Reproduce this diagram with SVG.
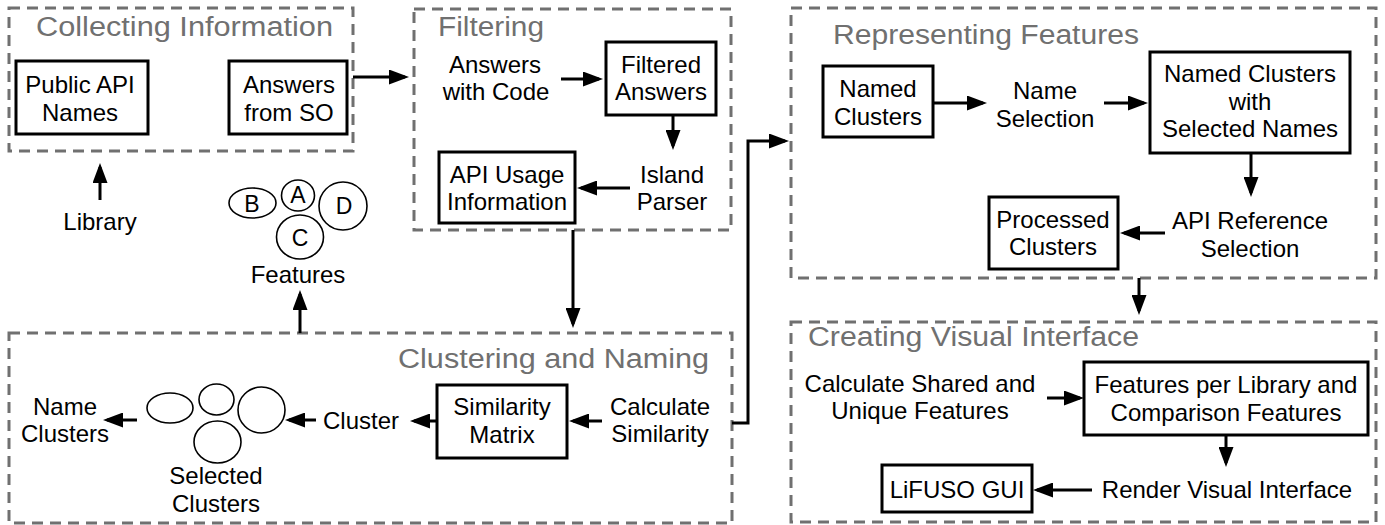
<svg xmlns="http://www.w3.org/2000/svg" width="1385" height="525" viewBox="0 0 1385 525">
<defs>
<style>
.grp{fill:none;stroke:#707070;stroke-width:3;stroke-dasharray:11 7}
.ttl{font-family:"Liberation Sans",Arial,Helvetica,sans-serif;font-size:27px;fill:#707070}
.box{fill:#fff;stroke:#000;stroke-width:3}
.t{font-family:"Liberation Sans",Arial,Helvetica,sans-serif;font-size:24px;fill:#000;text-anchor:middle}
.s{font-family:"Liberation Sans",Arial,Helvetica,sans-serif;font-size:23px;fill:#000;text-anchor:middle}
.el{fill:#fff;stroke:#000;stroke-width:1.6}
.c{fill:none;stroke:#000;stroke-width:3;marker-end:url(#ah)}
</style>
<marker id="ah" markerUnits="userSpaceOnUse" markerWidth="20" markerHeight="15" refX="16" refY="7.5" orient="auto">
<path d="M0,0 L20,7.5 L0,15 z" fill="#000"/>
</marker>
</defs>
<rect width="1385" height="525" fill="#fff"/>

<g id="collecting">
<rect class="grp" x="9" y="8" width="344" height="143"/>
<text class="ttl" x="36" y="36" textLength="297" lengthAdjust="spacingAndGlyphs">Collecting Information</text>
</g>
<g id="public-api-names">
<rect class="box" x="16" y="61" width="132" height="73"/>
<text class="t" x="80" y="93">Public API</text>
<text class="t" x="80" y="121">Names</text>
</g>
<g id="answers-from-so">
<rect class="box" x="229" y="61" width="118" height="73"/>
<text class="t" x="289" y="93">Answers</text>
<text class="t" x="289" y="121">from SO</text>
</g>
<g id="library"><text class="t" x="100" y="230">Library</text></g>
<g id="features">
<ellipse class="el" cx="252.5" cy="203" rx="23.5" ry="15"/>
<ellipse class="el" cx="298" cy="195.5" rx="16.5" ry="15.5"/>
<ellipse class="el" cx="343" cy="206" rx="24" ry="24"/>
<ellipse class="el" cx="300" cy="237" rx="23.5" ry="22"/>
<text class="s" x="252" y="212">B</text>
<text class="s" x="298" y="203">A</text>
<text class="s" x="344" y="214">D</text>
<text class="s" x="300" y="246">C</text>
<text class="t" x="298" y="283">Features</text>
</g>

<g id="filtering">
<rect class="grp" x="414" y="9" width="317" height="221"/>
<text class="ttl" x="438" y="36" textLength="106" lengthAdjust="spacingAndGlyphs">Filtering</text>
</g>
<g id="answers-with-code">
<text class="t" x="495" y="73">Answers</text>
<text class="t" x="496" y="100">with Code</text>
</g>
<g id="filtered-answers">
<rect class="box" x="606" y="42" width="110" height="73"/>
<text class="t" x="661" y="73">Filtered</text>
<text class="t" x="661" y="100">Answers</text>
</g>
<g id="island-parser">
<text class="t" x="672" y="183">Island</text>
<text class="t" x="672" y="210">Parser</text>
</g>
<g id="api-usage-information">
<rect class="box" x="439" y="152" width="136" height="71"/>
<text class="t" x="507" y="183">API Usage</text>
<text class="t" x="507" y="210">Information</text>
</g>

<g id="representing">
<rect class="grp" x="791" y="8" width="585" height="270"/>
<text class="ttl" x="833" y="44" textLength="306" lengthAdjust="spacingAndGlyphs">Representing Features</text>
</g>
<g id="named-clusters">
<rect class="box" x="823" y="66" width="110" height="71"/>
<text class="t" x="878" y="97">Named</text>
<text class="t" x="878" y="125">Clusters</text>
</g>
<g id="name-selection">
<text class="t" x="1045" y="99">Name</text>
<text class="t" x="1045" y="127">Selection</text>
</g>
<g id="named-clusters-selected">
<rect class="box" x="1150" y="52" width="200" height="101"/>
<text class="t" x="1250" y="82">Named Clusters</text>
<text class="t" x="1250" y="110">with</text>
<text class="t" x="1250" y="137">Selected Names</text>
</g>
<g id="api-reference-selection">
<text class="t" x="1250" y="229">API Reference</text>
<text class="t" x="1250" y="257">Selection</text>
</g>
<g id="processed-clusters">
<rect class="box" x="989" y="197" width="129" height="72"/>
<text class="t" x="1053" y="228">Processed</text>
<text class="t" x="1053" y="255">Clusters</text>
</g>

<g id="clustering">
<rect class="grp" x="9" y="333" width="723" height="190"/>
<text class="ttl" x="398" y="368" textLength="311" lengthAdjust="spacingAndGlyphs">Clustering and Naming</text>
</g>
<g id="name-clusters">
<text class="t" x="65" y="415">Name</text>
<text class="t" x="65" y="442">Clusters</text>
</g>
<g id="selected-clusters">
<ellipse class="el" cx="170" cy="408" rx="23" ry="15"/>
<ellipse class="el" cx="216.5" cy="399.5" rx="17.5" ry="15.5"/>
<ellipse class="el" cx="261.5" cy="410" rx="23.5" ry="23"/>
<ellipse class="el" cx="217.5" cy="442" rx="23.5" ry="21"/>
<text class="t" x="216" y="484">Selected</text>
<text class="t" x="216" y="512">Clusters</text>
</g>
<g id="cluster"><text class="t" x="361" y="429">Cluster</text></g>
<g id="similarity-matrix">
<rect class="box" x="437" y="385" width="130" height="73"/>
<text class="t" x="502" y="415">Similarity</text>
<text class="t" x="502" y="443">Matrix</text>
</g>
<g id="calculate-similarity">
<text class="t" x="660" y="415">Calculate</text>
<text class="t" x="660" y="442">Similarity</text>
</g>

<g id="creating">
<rect class="grp" x="791" y="322" width="585" height="200"/>
<text class="ttl" x="808" y="346" textLength="331" lengthAdjust="spacingAndGlyphs">Creating Visual Interface</text>
</g>
<g id="calculate-shared">
<text class="t" x="920" y="392">Calculate Shared and</text>
<text class="t" x="920" y="419">Unique Features</text>
</g>
<g id="features-per-library">
<rect class="box" x="1084" y="362" width="284" height="73"/>
<text class="t" x="1226" y="393">Features per Library and</text>
<text class="t" x="1226" y="421">Comparison Features</text>
</g>
<g id="render-visual-interface"><text class="t" x="1227" y="498">Render Visual Interface</text></g>
<g id="lifuso-gui">
<rect class="box" x="882" y="465" width="150" height="47"/>
<text class="t" x="957" y="498">LiFUSO GUI</text>
</g>

<g id="connectors">
<path class="c" d="M100,200 V167"/>
<path class="c" d="M353,77 H405"/>
<path class="c" d="M561,79 H599"/>
<path class="c" d="M673,115 V146"/>
<path class="c" d="M630,188 H581"/>
<path class="c" d="M573,230 V324"/>
<path class="c" d="M732,423 H748 V141 H785"/>
<path class="c" d="M602,421 H573"/>
<path class="c" d="M437,421 H414"/>
<path class="c" d="M316,420 H289"/>
<path class="c" d="M137,420 H107"/>
<path class="c" d="M300,333 V294"/>
<path class="c" d="M933,103 H983"/>
<path class="c" d="M1104,103 H1144"/>
<path class="c" d="M1251,153 V193"/>
<path class="c" d="M1165,233 H1124"/>
<path class="c" d="M1139,278 V311"/>
<path class="c" d="M1047,398 H1080"/>
<path class="c" d="M1226,435 V463"/>
<path class="c" d="M1092,490 H1037"/>
</g>
</svg>
